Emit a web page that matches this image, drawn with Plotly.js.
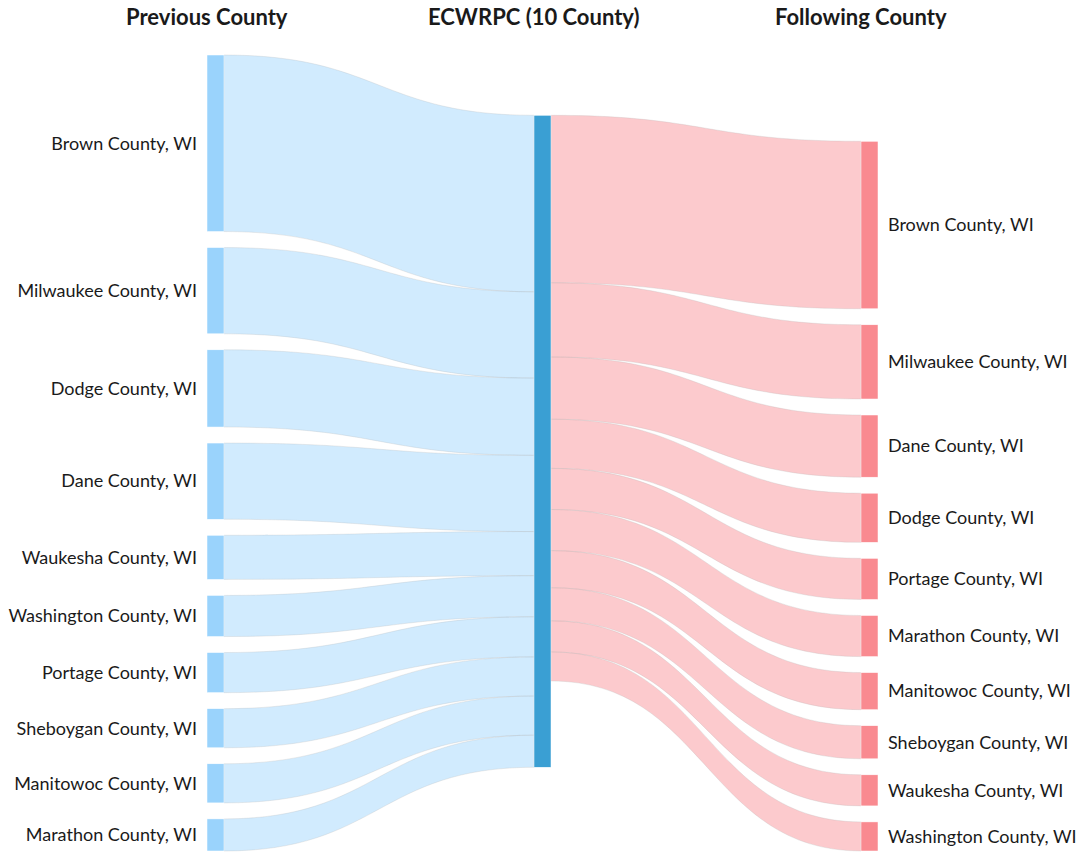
<!DOCTYPE html>
<html>
<head>
<meta charset="utf-8">
<script src="https://cdn.plot.ly/plotly-3.0.1.min.js"></script>
<style>html,body{margin:0;padding:0;background:#fff;}#chart{width:1077px;height:853px;}</style>
</head>
<body>
<div id="chart"></div>
<script>
const previousCounties = ["Brown County, WI","Milwaukee County, WI","Dodge County, WI","Dane County, WI","Waukesha County, WI","Washington County, WI","Portage County, WI","Sheboygan County, WI","Manitowoc County, WI","Marathon County, WI"];
const previousValues = [176, 86, 77, 76, 44, 41, 40, 39, 39, 32];
const centerName = "ECWRPC (10 County)";
const followingCounties = ["Brown County, WI","Milwaukee County, WI","Dane County, WI","Dodge County, WI","Portage County, WI","Marathon County, WI","Manitowoc County, WI","Sheboygan County, WI","Waukesha County, WI","Washington County, WI"];
const followingValues = [167, 74, 62, 49, 41, 41, 37, 33, 31, 29];
const columnTitles = ["Previous County", "ECWRPC (10 County)", "Following County"];

const nPrev = previousCounties.length;
const centerIdx = nPrev;
const labels = [...previousCounties, "", ...followingCounties];
const nodeColors = [
  ...previousCounties.map(() => "#9ad3fc"),
  "#3a9fd3",
  ...followingCounties.map(() => "#f98a90")
];
const src = [], tgt = [], val = [], lcol = [];
previousValues.forEach((v, i) => { src.push(i); tgt.push(centerIdx); val.push(v); lcol.push("rgba(154,211,252,0.45)"); });
followingValues.forEach((v, i) => { src.push(centerIdx); tgt.push(centerIdx + 1 + i); val.push(v); lcol.push("rgba(249,138,144,0.45)"); });

const W = 1077, H = 853;
const domX = [207 / W, 878 / W];
const domY = [2 / H, 1 - 55 / H];
const thick = 17;
const labelGap = 10;

const trace = {
  type: "sankey",
  domain: { x: domX, y: domY },
  node: {
    label: labels,
    customdata: [...previousCounties, centerName, ...followingCounties],
    hovertemplate: "%{customdata}<br>%{value}<extra></extra>",
    color: nodeColors,
    pad: 16,
    thickness: thick,
    line: { color: "white", width: 0.5 }
  },
  link: { source: src, target: tgt, value: val, color: lcol, line: { color: "rgba(180,180,180,0.5)", width: 0.5 } },
  textfont: { family: "Lato, sans-serif", size: 18, color: "#1a1a1a" }
};

const spanPx = 878 - 207 - thick;
const annotations = columnTitles.map((t, i) => ({
  text: "<b>" + t + "</b>",
  xref: "paper", yref: "paper",
  x: (207 + i * spanPx / 2) / W, y: 1 - 17 / H,
  xanchor: "center", yanchor: "middle", showarrow: false,
  font: { family: "Lato, sans-serif", size: 22, color: "#1a1a1a" }
}));

function flipLabels(gd) {
  gd.querySelectorAll(".sankey-node").forEach(g => {
    const rect = g.querySelector(".node-rect");
    const text = g.querySelector(".node-label");
    if (!rect || !text || !text.textContent) return;
    const w = parseFloat(rect.getAttribute("width")) || thick;
    const tr = text.getAttribute("transform") || "";
    const m = /translate\(\s*([-\d.e]+)[\s,]+([-\d.e]+)\s*\)/.exec(tr);
    const y = m ? parseFloat(m[2]) : 0;
    const anchor = text.getAttribute("text-anchor");
    if (anchor === "end") {
      text.setAttribute("text-anchor", "start");
      text.setAttribute("transform", "translate(" + (w + labelGap) + "," + y + ")");
    } else {
      text.setAttribute("text-anchor", "end");
      text.setAttribute("transform", "translate(" + (-labelGap) + "," + y + ")");
    }
  });
}

Plotly.newPlot("chart", [trace], {
  width: W, height: H,
  margin: { l: 0, r: 0, t: 0, b: 0 },
  paper_bgcolor: "white",
  font: { family: "Lato, sans-serif" },
  annotations: annotations
}, { displayModeBar: false }).then(flipLabels);
</script>
</body>
</html>
